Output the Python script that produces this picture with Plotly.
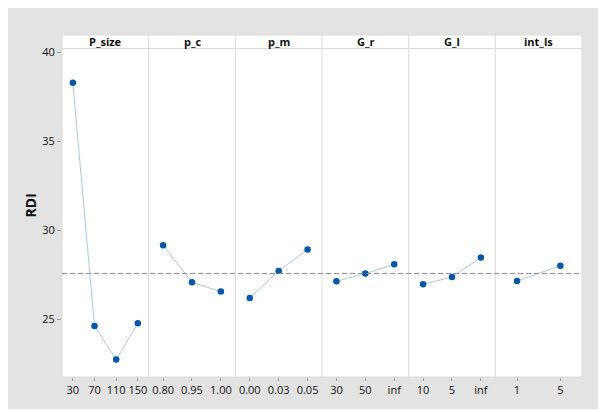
import plotly.graph_objects as go

# ---- data ----
factors = ["P_size", "p_c", "p_m", "G_r", "G_l", "int_ls"]
p_size_levels = ["30", "70", "110", "150"]
p_size_rdi = [38.30, 24.62, 22.74, 24.78]
p_c_levels = ["0.80", "0.95", "1.00"]
p_c_rdi = [29.16, 27.08, 26.56]
p_m_levels = ["0.00", "0.03", "0.05"]
p_m_rdi = [26.20, 27.72, 28.93]
g_r_levels = ["30", "50", "inf"]
g_r_rdi = [27.14, 27.57, 28.09]
g_l_levels = ["10", "5", "inf"]
g_l_rdi = [26.97, 27.38, 28.47]
int_ls_levels = ["1", "5"]
int_ls_rdi = [27.16, 28.01]
mean_rdi = 27.58
y_ticks = [25, 30, 35, 40]

levels = [p_size_levels, p_c_levels, p_m_levels, g_r_levels, g_l_levels, int_ls_levels]
values = [p_size_rdi, p_c_rdi, p_m_rdi, g_r_rdi, g_l_rdi, int_ls_rdi]

# ---- geometry (page has an 8px body margin, so the figure starts at 8,8) ----
OFF = 8
W, H = 598, 404
ML, MR, MT, MB = 54, 24, 26.5, 35.3
PW = W - ML - MR
PH = H - MT - MB
header_px = 13.5
ytop = 1 - header_px / PH

def px_x(p):
    return (p - OFF - ML) / PW

def px_y(p):
    return (H - MB - (p - OFF)) / PH

POINT = "#0757a8"
LINE = "#a9c9ea"
GRID = "#dadada"
FONT = "Open Sans"

fig = go.Figure()
n = len(factors)
for i, (lv, vals) in enumerate(zip(levels, values)):
    ax = "x" if i == 0 else f"x{i+1}"
    fig.add_trace(go.Scatter(
        x=lv, y=vals, xaxis=ax, yaxis="y", mode="lines+markers",
        line=dict(color=LINE, width=1),
        marker=dict(color=POINT, size=6.5),
        showlegend=False, hoverinfo="skip",
    ))
    key = "xaxis" if i == 0 else f"xaxis{i+1}"
    fig.layout[key] = dict(
        domain=[i / n, (i + 1) / n], anchor="y", type="category",
        categoryorder="array", categoryarray=lv,
        range=[-0.5, len(lv) - 0.5], showgrid=False, zeroline=False,
        showline=False, ticks="outside", ticklen=3, tickcolor="#9a9a9a",
        tickfont=dict(family=FONT, size=11, color="#111111"), fixedrange=True,
    )

fig.update_layout(
    width=W, height=H,
    margin=dict(l=ML, r=MR, t=MT, b=MB, pad=0),
    paper_bgcolor="white", plot_bgcolor="white",
    yaxis=dict(domain=[0, ytop], anchor="x", range=[21.76, 40.22],
               tickvals=y_ticks, showgrid=False, zeroline=False, showline=False,
               ticks="outside", ticklen=4, tickcolor="#9a9a9a",
               tickfont=dict(family=FONT, size=11, color="#111111")),
    font=dict(family=FONT, color="#111111"),
)

shapes = []
# gray background panel
shapes.append(dict(type="rect", xref="paper", yref="paper", layer="below",
                   x0=px_x(6), x1=px_x(603), y0=px_y(409), y1=px_y(6),
                   fillcolor="#e3e3e3", line=dict(width=0)))
# white plot area incl. header
shapes.append(dict(type="rect", xref="paper", yref="paper", layer="below",
                   x0=0, x1=1, y0=0, y1=1, fillcolor="white", line=dict(width=0)))
# panel dividers
for i in range(1, n):
    shapes.append(dict(type="line", xref="paper", yref="paper", x0=i / n, x1=i / n,
                       y0=0, y1=1, line=dict(color=GRID, width=1)))
# header bottom line
shapes.append(dict(type="line", xref="paper", yref="paper", x0=0, x1=1,
                   y0=ytop, y1=ytop, line=dict(color=GRID, width=1)))
# outer border
shapes.append(dict(type="rect", xref="paper", yref="paper", x0=0, x1=1, y0=0, y1=1,
                   line=dict(color=GRID, width=1)))
# mean reference line
shapes.append(dict(type="line", xref="paper", yref="y", x0=0, x1=1,
                   y0=mean_rdi, y1=mean_rdi,
                   line=dict(color="#8c8c8c", width=1, dash="5px,3px")))
fig.update_layout(shapes=shapes)

annotations = []
for i, f in enumerate(factors):
    annotations.append(dict(text=f"<b>{f}</b>", xref="paper", yref="paper",
                            x=(i + 0.5) / n, y=(1 + ytop) / 2, showarrow=False,
                            xanchor="center", yanchor="middle",
                            font=dict(family=FONT, size=11, color="#111111")))
annotations.append(dict(text="<b>RDI</b>", xref="paper", yref="paper",
                        x=px_x(30), y=px_y(205), showarrow=False, textangle=-90,
                        xanchor="center", yanchor="middle",
                        font=dict(family=FONT, size=14, color="#111111")))
fig.update_layout(annotations=annotations)

fig.write_html("out.html")
